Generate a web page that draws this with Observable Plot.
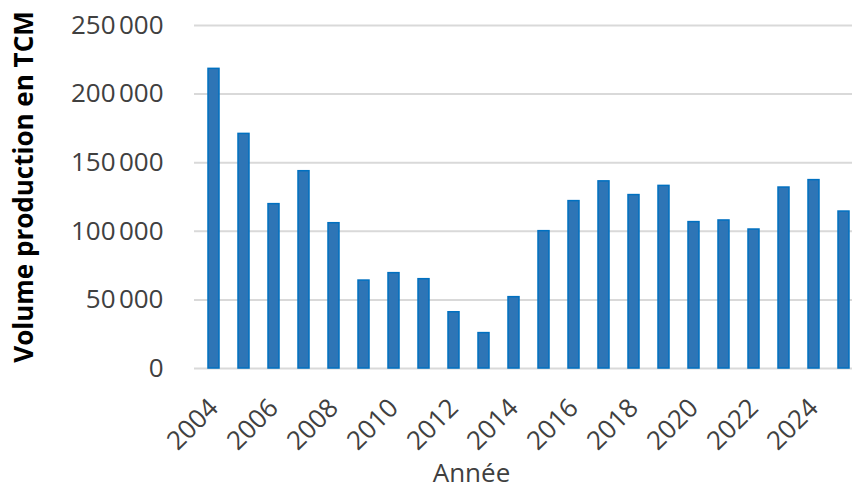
<!DOCTYPE html>
<html>
<head>
<meta charset="utf-8">
<script src="https://cdn.jsdelivr.net/npm/d3@7"></script>
<script src="https://cdn.jsdelivr.net/npm/@observablehq/plot@0.6"></script>
<style>
  html, body { margin: 0; padding: 0; overflow: hidden; background: #fff; }
  #chart { width: 852px; height: 488px; overflow: hidden; }
  #chart svg { max-width: none !important; }
</style>
</head>
<body>
<div id="chart"></div>
<script>
const years = [2004, 2005, 2006, 2007, 2008, 2009, 2010, 2011, 2012, 2013, 2014,
               2015, 2016, 2017, 2018, 2019, 2020, 2021, 2022, 2023, 2024, 2025];
const volumes = [218400, 171000, 119800, 143800, 105900, 64100, 69500, 65100, 41000, 25800, 52000,
                 100100, 122000, 136400, 126400, 133100, 106700, 107900, 101300, 131900, 137300, 114400];
const yTicks = [0, 50000, 100000, 150000, 200000, 250000];
const xTickYears = [2004, 2006, 2008, 2010, 2012, 2014, 2016, 2018, 2020, 2022, 2024];
const yLabel = "Volume production en TCM";
const xLabel = "Année";

const data = years.map((y, i) => ({year: y, value: volumes[i]}));
const fmt = d => d3.format(",")(d).replace(/,/g, "\u202f");

const chart = Plot.plot({
  width: 862,
  height: 488,
  marginLeft: 194,
  marginRight: 0,
  marginTop: 25,
  marginBottom: 120,
  style: {fontFamily: "'Open Sans', sans-serif", background: "#fff", maxWidth: "none"},
  x: {type: "band", domain: years, paddingInner: 0.64, paddingOuter: 0.32},
  y: {domain: [0, 250000]},
  marks: [
    Plot.gridY(yTicks, {stroke: "#d9d9d9", strokeOpacity: 1, strokeWidth: 2}),
    Plot.axisY(yTicks, {tickSize: 0, tickPadding: 31, fontSize: 26, fill: "#404040",
                        tickFormat: fmt, label: null}),
    Plot.barY(data, {x: "year", y: "value", fill: "#2E75B6", stroke: "#0070C0", strokeWidth: 1.5}),
    Plot.axisX(xTickYears, {tickSize: 0, tickRotate: -45, tickPadding: 35, fontSize: 26,
                            fill: "#404040", label: null, tickFormat: d => String(d)}),
    Plot.text([yLabel], {frameAnchor: "left", textAnchor: "middle", rotate: -90, dx: -170, dy: -10,
                         fontSize: 26, fontWeight: "bold", fill: "#000"}),
    Plot.text([xLabel], {frameAnchor: "bottom", textAnchor: "middle", dx: -57, dy: 113,
                         fontSize: 26, fill: "#404040"})
  ]
});
document.getElementById("chart").appendChild(chart);
</script>
</body>
</html>
